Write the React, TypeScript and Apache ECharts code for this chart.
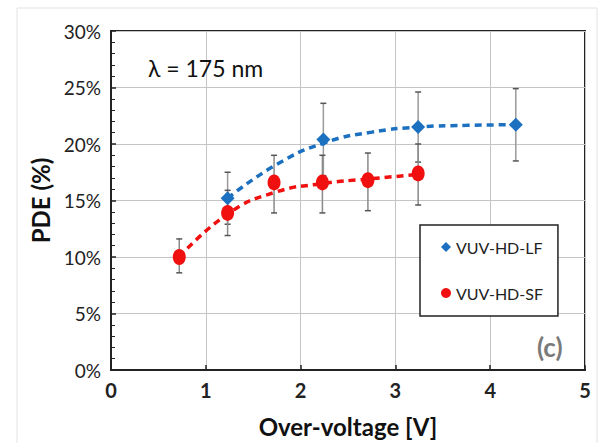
import React, { useEffect, useRef } from "react";
import * as echarts from "echarts";

// X tick values & labels
const xTicks = [0, 1, 2, 3, 4, 5];
const yTicks = [0, 5, 10, 15, 20, 25, 30];

// VUV-HD-LF (blue diamonds)
const lfX = [1.23, 2.24, 3.24, 4.27];
const lfY = [15.2, 20.4, 21.5, 21.7];
const lfLow = [12.9, 17.2, 18.4, 18.5];
const lfHigh = [17.5, 23.6, 24.6, 24.9];

// VUV-HD-SF (red circles)
const sfX = [0.72, 1.23, 1.72, 2.23, 2.71, 3.24];
const sfY = [10.0, 13.9, 16.6, 16.6, 16.8, 17.4];
const sfLow = [8.6, 11.9, 13.9, 13.9, 14.1, 14.6];
const sfHigh = [11.6, 15.9, 19.0, 19.0, 19.2, 20.0];

// Dashed trend curves
const lfTrendX = [1.23, 1.75, 2.25, 2.75, 3.25, 3.75, 4.27];
const lfTrendY = [15.2, 18.2, 20.1, 21.05, 21.5, 21.65, 21.7];
const sfTrendX = [0.72, 1.23, 1.72, 2.23, 2.71, 3.24];
const sfTrendY = [10.0, 13.8, 15.7, 16.5, 16.9, 17.3];

const BLUE = "#1B70C0";
const RED = "#F01010";
const FONT = "Lato, 'Liberation Sans', sans-serif";

const errorSeries = (name: string, xs: number[], lows: number[], highs: number[], color: string) => ({
  type: "custom",
  name: name + "-err",
  z: 2,
  silent: true,
  data: xs.map((x, i) => [x, lows[i], highs[i]]),
  renderItem: (params: any, api: any) => {
    const x = api.value(0);
    const lo = api.coord([x, api.value(1)]);
    const hi = api.coord([x, api.value(2)]);
    const cap = 3;
    return {
      type: "group",
      children: [
        { type: "line", shape: { x1: lo[0], y1: lo[1], x2: hi[0], y2: hi[1] }, style: { stroke: color, lineWidth: 1.5 } },
        { type: "line", shape: { x1: lo[0] - cap, y1: lo[1], x2: lo[0] + cap, y2: lo[1] }, style: { stroke: "#555", lineWidth: 1.5 } },
        { type: "line", shape: { x1: hi[0] - cap, y1: hi[1], x2: hi[0] + cap, y2: hi[1] }, style: { stroke: "#555", lineWidth: 1.5 } },
      ],
    };
  },
});

export default function App() {
  const ref = useRef<HTMLDivElement>(null);
  useEffect(() => {
    if (!ref.current) return;
    const chart = echarts.init(ref.current, null, { renderer: "svg" });
    chart.setOption({
      animation: false,
      backgroundColor: "#fff",
      textStyle: { fontFamily: FONT },
      grid: {
        left: 111, top: 31, right: 20, bottom: 70,
        show: true, borderColor: "#222", borderWidth: 2, backgroundColor: "transparent",
      },
      legend: {
        left: 420, top: 225,
        orient: "vertical",
        backgroundColor: "#fff",
        borderColor: "#222", borderWidth: 1.5,
        padding: [14, 15, 15, 21],
        itemGap: 30,
        itemWidth: 10, itemHeight: 10,
        textStyle: { fontFamily: FONT, fontSize: 16, color: "#222" },
        data: [
          { name: "VUV-HD-LF", icon: "diamond" },
          { name: "VUV-HD-SF", icon: "circle" },
        ],
      },
      xAxis: {
        type: "value", min: 0, max: 5, interval: 1,
        name: "Over-voltage [V]", nameLocation: "middle", nameGap: 44,
        nameTextStyle: { fontFamily: FONT, fontSize: 24, fontWeight: "bold", color: "#111" },
        axisLine: { show: true, lineStyle: { color: "#222", width: 2 } },
        axisTick: { show: true, inside: true, length: 5, lineStyle: { color: "#222", width: 1.5 } },
        axisLabel: {
          margin: 10, fontFamily: FONT, fontSize: 20, fontWeight: "bold", color: "#222",
          formatter: (v: number) => (xTicks.includes(v) ? String(v) : ""),
        },
        splitLine: { show: true, lineStyle: { color: "#c4c4c4", width: 1 } },
      },
      yAxis: {
        type: "value", min: 0, max: 30, interval: 5,
        name: "PDE (%)", nameLocation: "middle", nameGap: 59,
        nameTextStyle: { fontFamily: FONT, fontSize: 24, fontWeight: "bold", color: "#111" },
        axisLine: { show: true, lineStyle: { color: "#222", width: 2 } },
        axisTick: { show: true, inside: true, length: 5, lineStyle: { color: "#222", width: 1.5 } },
        minorTick: { show: true, splitNumber: 5, length: 4, lineStyle: { color: "#222", width: 1 } },
        axisLabel: {
          margin: 10, fontFamily: FONT, fontSize: 19, color: "#222",
          formatter: (v: number) => (yTicks.includes(v) ? v + "%" : ""),
        },
        splitLine: { show: true, lineStyle: { color: "#c4c4c4", width: 1 } },
      },
      graphic: [
        {
          type: "rect", z: -10, silent: true,
          shape: { x: 17, y: 8, width: 580, height: 445 },
          style: { fill: "none", stroke: "#e2e2e2", lineWidth: 1 },
        },
        {
          type: "text", left: 148, top: 56, z: 10,
          style: { text: "λ = 175 nm", fontFamily: FONT, fontSize: 23, fill: "#111" },
        },
        {
          type: "text", left: 537, top: 334, z: 10,
          style: { text: "(c)", fontFamily: FONT, fontSize: 26, fontWeight: "bold", fill: "#7a7a7a" },
        },
      ],
      series: [
        {
          type: "line", name: "LF-trend", z: 3, silent: true, showSymbol: false, symbol: "none",
          smooth: 0.5,
          data: lfTrendX.map((x, i) => [x, lfTrendY[i]]),
          lineStyle: { color: BLUE, width: 3.5, type: [7, 5] },
        },
        {
          type: "line", name: "SF-trend", z: 3, silent: true, showSymbol: false, symbol: "none",
          smooth: 0.5,
          data: sfTrendX.map((x, i) => [x, sfTrendY[i]]),
          lineStyle: { color: RED, width: 3.5, type: [7, 5] },
        },
        errorSeries("VUV-HD-LF", lfX, lfLow, lfHigh, "#9a9a9a"),
        errorSeries("VUV-HD-SF", sfX, sfLow, sfHigh, "#8a8a8a"),
        {
          type: "scatter", name: "VUV-HD-LF", z: 5,
          symbol: "diamond", symbolSize: 14,
          itemStyle: { color: BLUE, opacity: 1 },
          data: lfX.map((x, i) => [x, lfY[i]]),
        },
        {
          type: "scatter", name: "VUV-HD-SF", z: 5,
          symbol: "circle", symbolSize: [13, 16],
          itemStyle: { color: RED, opacity: 1 },
          data: sfX.map((x, i) => [x, sfY[i]]),
        },
      ],
    });
    return () => chart.dispose();
  }, []);
  return <div ref={ref} style={{ width: 605, height: 443, position: "absolute", left: 0, top: 0 }} />;
}
